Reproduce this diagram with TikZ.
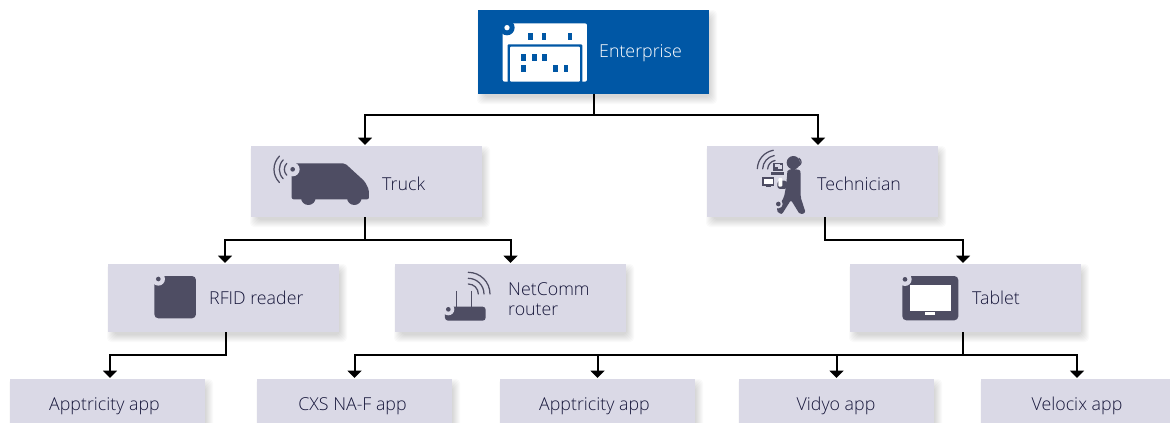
\documentclass[tikz,border=0pt]{standalone}
\usepackage{fontspec}
\setmainfont{Open Sans Light}
\usetikzlibrary{arrows.meta}
\definecolor{boxc}{HTML}{DAD9E6}
\definecolor{bluec}{HTML}{0057A5}
\definecolor{iconc}{HTML}{4E4D63}
\definecolor{textc}{HTML}{16163A}
\tikzset{
  boxst/.style={fill=boxc,inner sep=0pt,outer sep=0pt},
  bluest/.style={fill=bluec,inner sep=0pt,outer sep=0pt},
  lab/.style={text=textc,inner sep=0pt,font=\fontsize{17.8}{20}\selectfont},
  conn/.style={draw=black,line width=2pt},
  arr/.style={conn,-{Triangle[width=14pt,length=7.5pt]},shorten >=1pt},
  wave/.style={draw=iconc,line width=1.25pt,line cap=round},
  ic/.style={fill=iconc,draw=none}
}
\newcommand{\mybox}[6]{%
  \foreach \i in {0,...,7}{%
    \fill[black,opacity=.018,rounded corners=4pt]
      ({#3+\i-1},{#4+\i}) rectangle ({#5+8-\i},{#6+10-\i});}
  \node[#1,minimum width={(#5-#3)*1pt},minimum height={(#6-#4)*1pt}] (#2) at ({(#3+#5)/2},{(#4+#6)/2}) {};}
\newcommand{\notch}[3]{% x y bg
  \fill[#3] (#1,#2) circle (20);
  \fill[iconc] (#1,#2) circle (7);}
\begin{document}
\begin{tikzpicture}[x=1pt,y=-1pt]
\useasboundingbox (0,0) rectangle (1170,423);
\fill[white] (0,0) rectangle (1170,423);
\clip (0,0) rectangle (1170,423);
\mybox{bluest}{ent}{478}{10}{709}{94}
\mybox{boxst}{truck}{251}{146}{482}{217}
\mybox{boxst}{tech}{707}{146}{938}{217}
\mybox{boxst}{rfid}{108}{264}{339}{332}
\mybox{boxst}{net}{395}{264}{626}{332}
\mybox{boxst}{tab}{850}{264}{1081}{332}
\mybox{boxst}{appa}{10}{379}{205}{423}
\mybox{boxst}{cxs}{257}{379}{452}{423}
\mybox{boxst}{appb}{500}{379}{695}{423}
\mybox{boxst}{vid}{739}{379}{934}{423}
\mybox{boxst}{vel}{981}{379}{1176}{423}
% labels
\node[lab,anchor=base west,text=white] (entl) at (599,57) {Enterprise};
\node[lab,anchor=base west] (truckl) at (382,190) {Truck};
\node[lab,anchor=base west] (techl) at (817,190) {Technician};
\node[lab,anchor=base west] (rfidl) at (209,304) {RFID reader};
\node[lab,anchor=base west] (netl) at (508,295.5) {NetComm};
\node[lab,anchor=base west] (netm) at (508,315) {router};
\node[lab,anchor=base west] (tabl) at (972,304) {Tablet};
\node[lab,anchor=base] (appal) at (104.5,410) {Apptricity app};
\node[lab,anchor=base] (cxsl) at (352.5,410) {CXS NA-F app};
\node[lab,anchor=base] (appbl) at (594.5,410) {Apptricity app};
\node[lab,anchor=base] (vidl) at (836,410) {Vidyo app};
\node[lab,anchor=base] (vell) at (1077,410) {Velocix app};
% connectors
\coordinate (c1) at ([xshift=-1.5]truck.north);
\coordinate (c2) at ([xshift=-4.5]tech.north);
\coordinate (c3) at ([xshift=-1.5]truck.south);
\coordinate (c4) at ([xshift=2.5]tech.south);
\coordinate (c5) at ([xshift=-2.5]tab.north);
\coordinate (c6) at ([xshift=-2.5]tab.south);
\coordinate (c7) at ([xshift=2.5]rfid.south);
\coordinate (c8) at ([xshift=1.5]rfid.north);
\coordinate (c9) at ([xshift=2.5]appa.north);
\coordinate (c10) at ([xshift=-1.5]vel.north);
\draw[arr] (ent.south) -- ++(0,21) -| (c1);
\draw[arr] (ent.south) -- ++(0,21) -| (c2);
\draw[arr] (c3) -- ++(0,23) -| (c8);
\draw[arr] (c3) -- ++(0,23) -| (net.north);
\draw[arr] (c4) -- ++(0,23) -| (c5);
\draw[arr] (c7) -- ++(0,23) -| (c9);
\draw[arr] (c6) -- ++(0,23) -| (cxs.north);
\draw[arr] (c6) -- ++(0,23) -| (appb.north);
\draw[arr] (c6) -- ++(0,23) -| (vid.north);
\draw[arr] (c6) -- ++(0,23) -| (c10);
% Enterprise icon
\begin{scope}[shift={(470,0)},x=.3333pt,y=-.3333pt]
  \fill[white,rounded corners=2pt] (98,70) rectangle (351,245);
  \fill[bluec] (111,83) circle (23);
  \fill[white] (111,83) circle (8);
  \fill[bluec,rounded corners=1pt] (113,133) rectangle (337,250);
  \fill[white,rounded corners=1pt] (120,140) rectangle (330,245);
  \foreach \a/\b in {175/100,215/100,293/100,153/163,186/163,217/163,153/195,249/195,281/195}
    \fill[bluec] (\a,\b) rectangle ++(14,20);
\end{scope}
% Truck icon
\begin{scope}[shift={(250,140)},x=.3333pt,y=-.3333pt]
  \fill[ic,rounded corners=2pt] (125,178) -- (125,70) -- (285,70) -- (345,125) -- (357,150) -- (357,178) -- cycle;
  \fill[ic] (175,173) circle (22) (313,173) circle (22);
  \fill[boxc] (128,88) circle (21);
  \fill[iconc] (128,88) circle (7);
  \foreach \r in {25,40,56}
    \draw[wave] (128,88) ++(135:\r) arc (135:225:\r);
\end{scope}
% Technician icon
\begin{scope}[shift={(700,140)},x=.3333pt,y=-.3333pt]
  \foreach \r in {27,42,58}
    \draw[wave] (230,88) ++(-178:\r) arc (-178:-100:\r);
  \fill[ic] (280,68) circle (20);
  \draw[wave] (297,55) .. controls (305,62) and (305,70) .. (298,76);
  \fill[ic,rounded corners=2pt] (262,100) .. controls (262,85) and (300,85) .. (302,100) -- (302,172) -- (317,218) -- (300,224) -- (273,180) -- (245,224) -- (228,212) -- (252,172) -- (258,140) -- cycle;
  \fill[boxc] (235,192) circle (13);
  \fill[ic] (235,192) circle (7);
  \fill[ic] (220,68) rectangle (248,92);
  \fill[boxc] (225,72) rectangle (240,82);
  \fill[boxc] (235,76) rectangle (245,87);
  \fill[ic] (212,95) rectangle (252,105);
  \fill[ic] (187,112) rectangle (222,137);
  \fill[white] (191,116) rectangle (218,132);
  \fill[ic] (198,137) rectangle (212,142);
  \fill[ic,rounded corners=3pt] (232,122) rectangle (262,147);
  \fill[white,rounded corners=1pt] (235,114) rectangle (247,140);
\end{scope}
% RFID icon
\begin{scope}[shift={(100,255)},x=.3333pt,y=-.3333pt]
  \fill[ic,rounded corners=4pt] (163,63) rectangle (288,190);
  \notch{175}{72}{boxc}
\end{scope}
% Router icon
\begin{scope}[shift={(390,255)},x=.3333pt,y=-.3333pt]
  \fill[ic,rounded corners=3pt] (165,155) rectangle (287,197);
  \fill[boxc] (175,163) circle (18);
  \fill[iconc] (175,163) circle (7);
  \draw[wave,line width=1.3pt,line cap=butt] (200,108) -- (200,156) (245,108) -- (245,156);
  \foreach \r in {30,47,65}
    \draw[wave] (235,117) ++(90:-\r) arc (-90:0:\r);
\end{scope}
% Tablet icon
\begin{scope}[shift={(845,255)},x=.3333pt,y=-.3333pt]
  \fill[ic,rounded corners=4pt] (172,63) rectangle (340,196);
  \fill[white] (195,90) rectangle (318,167);
  \fill[white] (240,171) rectangle (270,180);
  \notch{180}{73}{boxc}
\end{scope}
\end{tikzpicture}
\end{document}
